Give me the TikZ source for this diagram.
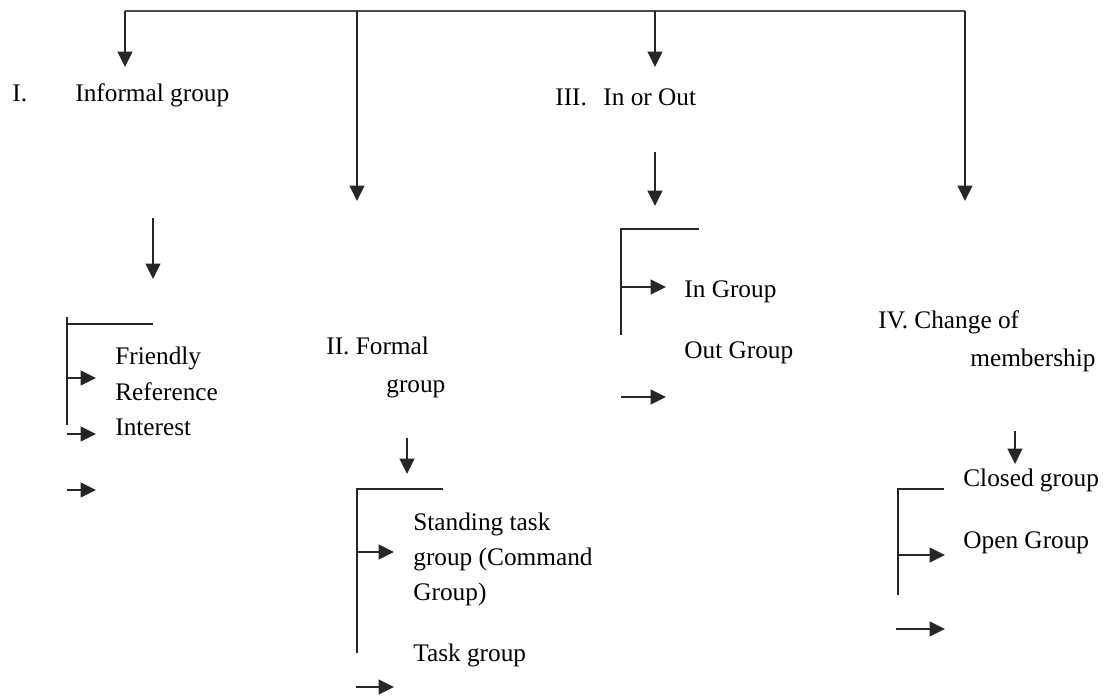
\documentclass[tikz,border=0pt]{standalone}
\usepackage{fontspec}
\setmainfont{Liberation Serif}
\usetikzlibrary{arrows.meta}
\begin{document}
\begin{tikzpicture}[x=0.02cm,y=-0.02cm,
  lbl/.style={anchor=base west,inner sep=0pt,font=\fontsize{14.4}{17}\selectfont},
  ln/.style={line width=0.9pt,black!85},
  bus/.style={line width=1.2pt,black!70},
  arr/.style={ln,-{Triangle[length=0.31cm,width=0.3cm]}}]
\useasboundingbox (0,0) rectangle (1104,696);
% texts
\node[lbl] (n1) at (12,101) {I.};
\node[lbl] (t1) at (75,101) {Informal group};
\node[lbl] (n3) at (555,105) {III.};
\node[lbl] (t3) at (603,105) {In or Out};
\node[lbl] (t2) at (326,354) {II. Formal};
\node[lbl] (t2b) at (386,392) {group};
\node[lbl] (t4) at (878,328) {IV. Change of};
\node[lbl] (t4b) at (970,366) {membership};
\node[lbl] (f1) at (115,364) {Friendly};
\node[lbl] (f2) at (115,400) {Reference};
\node[lbl] (f3) at (115,435) {Interest};
\node[lbl] (s1) at (413,530) {Standing task};
\node[lbl] (s2) at (413,565) {group (Command};
\node[lbl] (s3) at (413,600) {Group)};
\node[lbl] (s4) at (413,661) {Task group};
\node[lbl] (g1) at (684,297) {In Group};
\node[lbl] (g2) at (684,358) {Out Group};
\node[lbl] (c1) at (963,486) {Closed group};
\node[lbl] (c2) at (963,548) {Open Group};
% top bus
\coordinate (b1) at (125,11);
\coordinate (b2) at (357,11);
\coordinate (b3) at (655,11);
\coordinate (b4) at (965,11);
\coordinate (e1) at (125,67);
\coordinate (e2) at (357,201);
\coordinate (e3) at (655,67);
\coordinate (e4) at (965,201);
\draw[bus] (b1) -- (b4);
\draw[arr] (b1) -- (e1);
\draw[arr] (b2) -- (e2);
\draw[arr] (b3) -- (e3);
\draw[arr] (b4) -- (e4);
% secondary arrows
\coordinate (d1s) at (153,218); \coordinate (d1e) at (153,279);
\coordinate (d2s) at (407,438); \coordinate (d2e) at (407,474);
\coordinate (d3s) at (655,152); \coordinate (d3e) at (655,206);
\coordinate (d4s) at (1015,431); \coordinate (d4e) at (1015,464);
\draw[arr] (d1s) -- (d1e);
\draw[arr] (d2s) -- (d2e);
\draw[arr] (d3s) -- (d3e);
\draw[arr] (d4s) -- (d4e);
% bracket I
\coordinate (i1) at (67,317); \coordinate (i2) at (67,425);
\coordinate (i3) at (67,324); \coordinate (i4) at (153,324);
\coordinate (ia) at (67,378); \coordinate (ib) at (96,378);
\coordinate (ic) at (67,434); \coordinate (id) at (96,434);
\coordinate (ie) at (67,490); \coordinate (if) at (96,490);
\draw[ln] (i1) -- (i2);
\draw[ln] (i3) -- (i4);
\draw[arr] (ia) -- (ib);
\draw[arr] (ic) -- (id);
\draw[arr] (ie) -- (if);
% bracket II
\coordinate (j1) at (357,489); \coordinate (j2) at (357,653);
\coordinate (j4) at (443,489);
\coordinate (ja) at (357,552); \coordinate (jb) at (394,552);
\coordinate (jc) at (356,687); \coordinate (jd) at (394,687);
\draw[ln] (j2) -- (j1) -- (j4);
\draw[arr] (ja) -- (jb);
\draw[arr] (jc) -- (jd);
% bracket III
\coordinate (k1) at (621,229); \coordinate (k2) at (621,335);
\coordinate (k4) at (699,229);
\coordinate (ka) at (621,287); \coordinate (kb) at (666,287);
\coordinate (kc) at (621,397); \coordinate (kd) at (666,397);
\draw[ln] (k2) -- (k1) -- (k4);
\draw[arr] (ka) -- (kb);
\draw[arr] (kc) -- (kd);
% bracket IV
\coordinate (m1) at (898,489); \coordinate (m2) at (898,595);
\coordinate (m4) at (944,489);
\coordinate (ma) at (898,555); \coordinate (mb) at (945,555);
\coordinate (mc) at (896,629); \coordinate (md) at (945,629);
\draw[ln] (m2) -- (m1) -- (m4);
\draw[arr] (ma) -- (mb);
\draw[arr] (mc) -- (md);
\end{tikzpicture}
\end{document}
